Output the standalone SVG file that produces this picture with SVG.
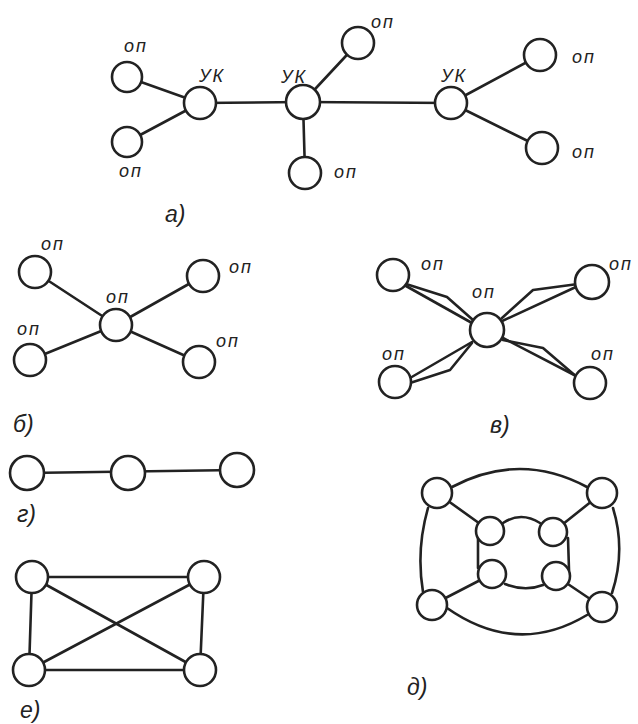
<svg xmlns="http://www.w3.org/2000/svg" width="638" height="724" viewBox="0 0 638 724">
<style>
.e{stroke:#222;stroke-width:2.6;fill:none;stroke-linecap:round;stroke-linejoin:round}
.n{stroke:#222;stroke-width:2.6;fill:#fff}
.t{font-family:"Liberation Sans",Arial,sans-serif;font-style:italic;font-size:18px;fill:#222;letter-spacing:2px}
.c{font-family:"Liberation Sans",Arial,sans-serif;font-style:italic;font-size:23px;fill:#222}
</style>
<rect width="638" height="724" fill="#fff"/>
<g id="connectors">
<line class="e" x1="127" y1="77" x2="200" y2="103"/>
<line class="e" x1="127" y1="142" x2="200" y2="103"/>
<line class="e" x1="200" y1="103" x2="303" y2="102"/>
<line class="e" x1="303" y1="102" x2="358" y2="43"/>
<line class="e" x1="303" y1="102" x2="305" y2="173"/>
<line class="e" x1="303" y1="102" x2="451" y2="103"/>
<line class="e" x1="451" y1="103" x2="540" y2="55"/>
<line class="e" x1="451" y1="103" x2="542" y2="148"/>
<line class="e" x1="35" y1="272" x2="116" y2="325"/>
<line class="e" x1="203" y1="276" x2="116" y2="325"/>
<line class="e" x1="30" y1="360" x2="116" y2="325"/>
<line class="e" x1="199" y1="362" x2="116" y2="325"/>
<polyline class="e" points="406,286 472,323"/>
<polyline class="e" points="406,284 447,297 473,320"/>
<polyline class="e" points="578,286 500,322"/>
<polyline class="e" points="578,284 533,290 502,318"/>
<polyline class="e" points="410,378 472,342"/>
<polyline class="e" points="410,383 450,370 472,343"/>
<polyline class="e" points="503,338 580,378"/>
<polyline class="e" points="503,340 543,348 578,378"/>
<line class="e" x1="27" y1="473" x2="237" y2="470"/>
<line class="e" x1="32" y1="577" x2="204" y2="577"/>
<line class="e" x1="32" y1="577" x2="29" y2="670"/>
<line class="e" x1="204" y1="577" x2="200" y2="670"/>
<line class="e" x1="29" y1="670" x2="200" y2="670"/>
<line class="e" x1="32" y1="577" x2="200" y2="670"/>
<line class="e" x1="204" y1="577" x2="29" y2="670"/>
<path class="e" d="M452,487 Q520,451 587,487"/>
<path class="e" d="M447,608 Q517,657 587,615"/>
<path class="e" d="M428,508 Q416,550 423,592"/>
<path class="e" d="M613,508 Q626,550 612,593"/>
<line class="e" x1="437" y1="493" x2="490" y2="531"/>
<line class="e" x1="602" y1="493" x2="553" y2="532"/>
<line class="e" x1="432" y1="605" x2="492" y2="574"/>
<line class="e" x1="602" y1="607" x2="556" y2="576"/>
<path class="e" d="M503,523 Q521,511 540,523"/>
<path class="e" d="M505,584 Q525,592 543,585"/>
<line class="e" x1="478" y1="538" x2="478" y2="568"/>
<line class="e" x1="568" y1="538" x2="569" y2="570"/>
</g>
<g id="a-op1"><circle class="n" cx="127" cy="77" r="15"/><text class="t" x="124" y="52">оп</text></g>
<g id="a-op2"><circle class="n" cx="127" cy="142" r="15"/><text class="t" x="119" y="177">оп</text></g>
<g id="a-uk1"><circle class="n" cx="200" cy="103" r="16"/><text class="t" x="199" y="82">УК</text></g>
<g id="a-uk2"><circle class="n" cx="303" cy="102" r="17"/><text class="t" x="281" y="83">УК</text></g>
<g id="a-op3"><circle class="n" cx="358" cy="43" r="16"/><text class="t" x="371" y="28">оп</text></g>
<g id="a-op4"><circle class="n" cx="305" cy="173" r="16"/><text class="t" x="334" y="178">оп</text></g>
<g id="a-uk3"><circle class="n" cx="451" cy="103" r="16"/><text class="t" x="441" y="82">УК</text></g>
<g id="a-op5"><circle class="n" cx="540" cy="55" r="16"/><text class="t" x="572" y="63">оп</text></g>
<g id="a-op6"><circle class="n" cx="542" cy="148" r="16"/><text class="t" x="572" y="158">оп</text></g>
<text class="c" x="165" y="222">а)</text>
<g id="b-op1"><circle class="n" cx="35" cy="272" r="16"/><text class="t" x="41" y="250">оп</text></g>
<g id="b-op0"><circle class="n" cx="116" cy="325" r="16"/><text class="t" x="106" y="303">оп</text></g>
<g id="b-op2"><circle class="n" cx="203" cy="276" r="16"/><text class="t" x="229" y="273">оп</text></g>
<g id="b-op3"><circle class="n" cx="30" cy="360" r="16"/><text class="t" x="17" y="335">оп</text></g>
<g id="b-op4"><circle class="n" cx="199" cy="362" r="16"/><text class="t" x="216" y="347">оп</text></g>
<text class="c" x="13" y="432">б)</text>
<g id="v-op1"><circle class="n" cx="393" cy="275" r="16"/><text class="t" x="421" y="270">оп</text></g>
<g id="v-op0"><circle class="n" cx="487" cy="330" r="17"/><text class="t" x="472" y="298">оп</text></g>
<g id="v-op2"><circle class="n" cx="592" cy="282" r="17"/><text class="t" x="609" y="270">оп</text></g>
<g id="v-op3"><circle class="n" cx="395" cy="382" r="16"/><text class="t" x="382" y="360">оп</text></g>
<g id="v-op4"><circle class="n" cx="590" cy="383" r="16"/><text class="t" x="591" y="360">оп</text></g>
<text class="c" x="490" y="433">в)</text>
<g id="g-1"><circle class="n" cx="27" cy="473" r="17"/></g>
<g id="g-2"><circle class="n" cx="128" cy="473" r="17"/></g>
<g id="g-3"><circle class="n" cx="237" cy="470" r="17"/></g>
<text class="c" x="17" y="522">г)</text>
<g id="e-1"><circle class="n" cx="32" cy="577" r="16"/></g>
<g id="e-2"><circle class="n" cx="204" cy="577" r="16"/></g>
<g id="e-3"><circle class="n" cx="29" cy="670" r="16"/></g>
<g id="e-4"><circle class="n" cx="200" cy="670" r="16"/></g>
<text class="c" x="20" y="718">е)</text>
<g id="d-o1"><circle class="n" cx="437" cy="493" r="15"/></g>
<g id="d-o2"><circle class="n" cx="602" cy="493" r="15"/></g>
<g id="d-o3"><circle class="n" cx="432" cy="605" r="15"/></g>
<g id="d-o4"><circle class="n" cx="602" cy="607" r="15"/></g>
<g id="d-i1"><circle class="n" cx="490" cy="531" r="14"/></g>
<g id="d-i2"><circle class="n" cx="553" cy="532" r="14"/></g>
<g id="d-i3"><circle class="n" cx="492" cy="574" r="14"/></g>
<g id="d-i4"><circle class="n" cx="556" cy="576" r="14"/></g>
<text class="c" x="407" y="695">д)</text>
</svg>
